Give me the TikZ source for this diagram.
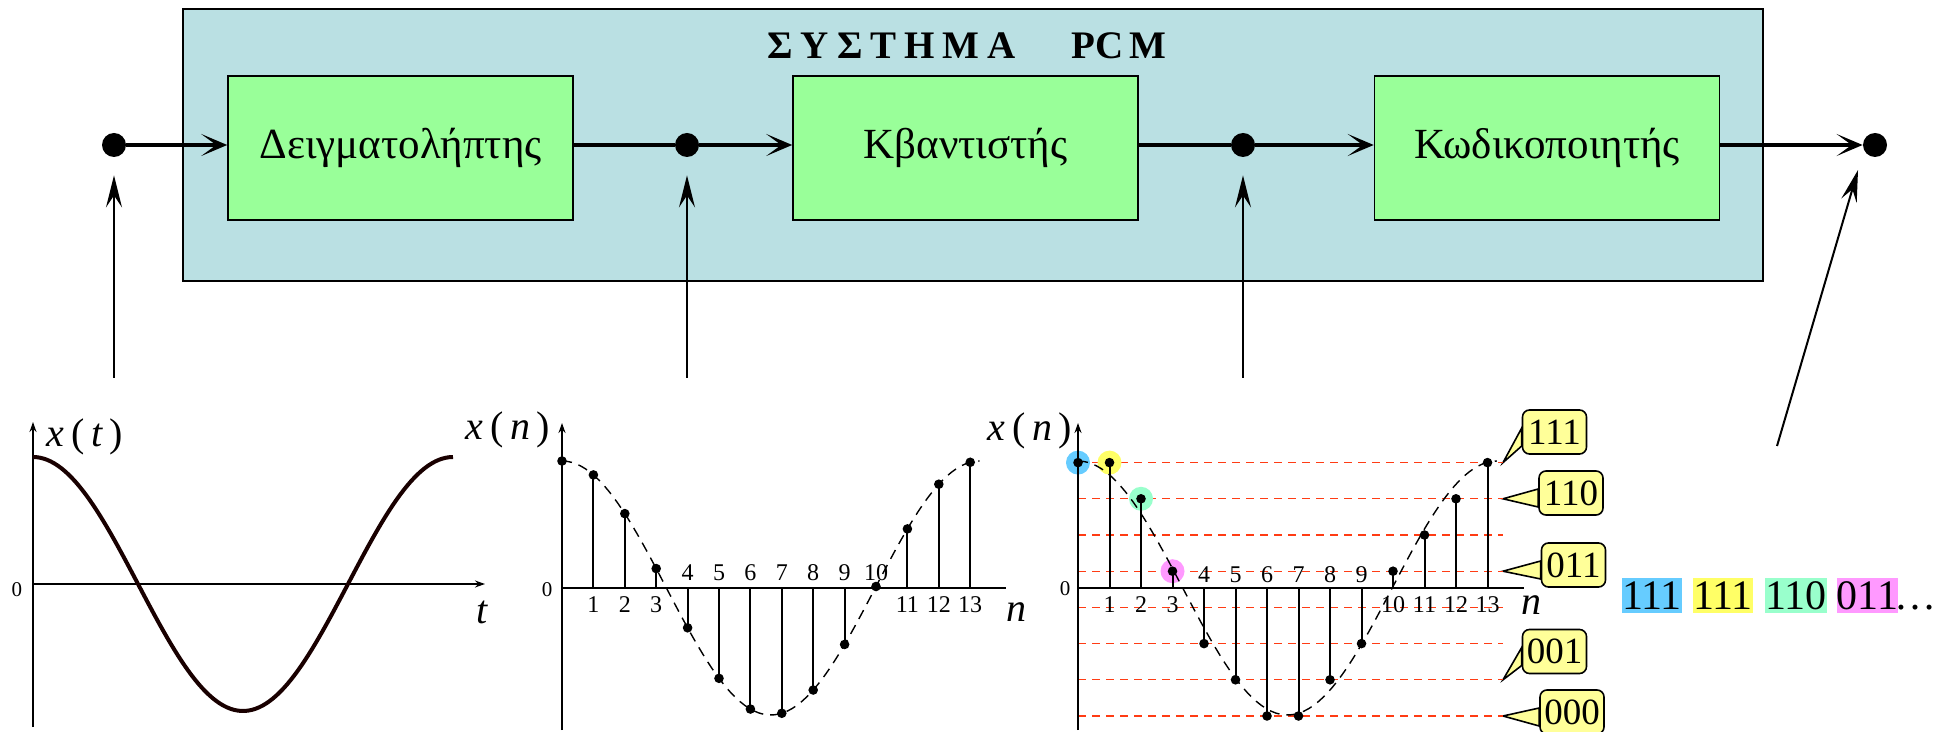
\documentclass[tikz,border=0pt]{standalone}
\usepackage{fontspec}
\setmainfont{Liberation Serif}
\usetikzlibrary{arrows.meta}
\usetikzlibrary{positioning,backgrounds}

\definecolor{sysblue}{RGB}{186,224,227}
\definecolor{blockgreen}{RGB}{153,255,153}
\definecolor{noteyellow}{RGB}{255,255,153}
\definecolor{levelred}{RGB}{255,60,20}
\definecolor{hlblue}{RGB}{102,204,255}
\definecolor{hlyellow}{RGB}{255,255,102}
\definecolor{hlgreen}{RGB}{153,255,204}
\definecolor{hlpink}{RGB}{255,153,255}

\tikzset{
  sysbox/.style={draw, line width=1.2pt, fill=sysblue, minimum width=790pt, minimum height=136pt},
  block/.style={draw, line width=0.8pt, fill=blockgreen, minimum width=172.5pt, minimum height=72pt,
    font=\fontsize{21.5}{25}\selectfont},
  dot/.style={circle, fill, inner sep=0pt, minimum size=12pt},
  flow/.style={line width=2pt, -{Stealth[length=13pt,width=11pt,inset=7.5pt]}},
  pointer/.style={line width=1pt, -{Stealth[length=16pt,width=8pt,inset=6pt]}},
  axis/.style={line width=1.2pt},
  axisarrow/.style={line width=1.2pt, -{Stealth[length=5pt,width=3.5pt]}},
  stem/.style={line width=1pt},
  trace/.style={line width=0.7pt, dash pattern=on 5pt off 3.5pt},
  level/.style={line width=0.6pt, levelred, dash pattern=on 4pt off 3pt},
  biglab/.style={font=\fontsize{20}{24}\selectfont},
  ticklab/.style={font=\fontsize{12}{14}\selectfont, inner sep=0pt},
  zerolab/.style={font=\fontsize{10.5}{12}\selectfont, inner sep=0pt},
  notebox/.style={draw, line width=0.8pt, fill=noteyellow, rounded corners=3.5pt,
    minimum width=32pt, minimum height=22pt, inner sep=2pt, font=\fontsize{18.5}{22}\selectfont},
  notewedge/.style={draw, line width=0.8pt, fill=noteyellow, line join=miter},
  codeword/.style={inner sep=0pt, minimum width=30pt, minimum height=17.5pt, font=\fontsize{21}{25}\selectfont}
}

\begin{document}
\begin{tikzpicture}[x=0.5pt,y=-0.5pt]
  \useasboundingbox (0,0) rectangle (1943,732);

  % system box
  \node[sysbox] (pcm) at (973,145) {};
  \node[font=\fontsize{19.5}{22}\selectfont\bfseries] (pcmtitle) at (967,46)
    {Σ\hspace{4pt}Υ\hspace{4pt}Σ\hspace{4pt}Τ\hspace{4pt}Η\hspace{4pt}Μ\hspace{4pt}Α\hspace{28pt}PC\hspace{3pt}M};

  % blocks
  \node[block] (sampler) at (400.5,148) {Δειγματολήπτης};
  \node[block] (quant) at (965.5,148) {Κβαντιστής};
  \node[block] (coder) at (1547,148) {Κωδικοποιητής};

  % terminals
  \node[dot] (in) at (114,145) {};
  \node[dot] (s1) at (687,145) {};
  \node[dot] (s2) at (1243,145) {};
  \node[dot] (out) at (1875,145) {};

  \draw[flow] (in) -- (in -| sampler.west);
  \draw[line width=2pt] (sampler.east |- s1) -- (s1);
  \draw[flow] (s1) -- (s1 -| quant.west);
  \draw[line width=2pt] (quant.east |- s2) -- (s2);
  \draw[flow] (s2) -- (s2 -| coder.west);
  \draw[flow] (coder.east |- out) -- (out);

  % pointers from the graphs
  \coordinate (pa) at (114,378);
  \coordinate (pb) at (687,378);
  \coordinate (pc) at (1243,378);
  \coordinate (pd) at (1777,446);
  \coordinate (pdtip) at (1858,170);
  \draw[pointer, shorten >=9pt] (pa) -- (in);
  \draw[pointer, shorten >=9pt] (pb) -- (s1);
  \draw[pointer, shorten >=9pt] (pc) -- (s2);
  \draw[pointer] (pd) -- (pdtip);

  % analog signal
  \draw[axisarrow] (33,727) -- (33,422);
  \draw[axisarrow] (33,584) -- (485,584);
  \draw[line width=2pt, black!90!red, domain=0:420, samples=120]
    plot ({33+\x},{584-127*cos(\x/420*360)});
  \node[zerolab] (z1) at (17,590) {0};
  \node[biglab] (xt) at (85,437) {\textit{x}\,(\,\textit{t}\,)};
  \node[biglab] (tlab) at (482,612) {\textit{t}};

  % sampled signal
  \draw[axisarrow] (562,730) -- (562,423);
  \draw[axis] (562,588) -- (1006,588);
  \draw[trace, domain=0:13.3, samples=90]
    plot ({562+31.4*\x},{588-127*cos(\x/13.3*360)});
  \foreach \n in {0,...,13} {
    \draw[stem] ({562+31.4*\n},588) -- ({562+31.4*\n},{588-127*cos(\n/13.3*360)});
    \fill ({562+31.4*\n},{588-127*cos(\n/13.3*360)}) circle (2.4pt);
  }
  \foreach \n in {1,2,3,11,12,13}
    \node[ticklab] at ({562+31.4*\n},605) {\n};
  \foreach \n in {4,...,10}
    \node[ticklab] at ({562+31.4*\n},573) {\n};
  \node[zerolab] (z2) at (547,590) {0};
  \node[biglab] (xn1) at (508,430) {\textit{x}\,(\,\textit{n}\,)};
  \node[biglab] (nlab1) at (1016,612) {\textit{n}};

  % quantized signal
  \foreach \k in {0,...,7}
    \draw[level] (1078,{716-36.2*\k}) -- (1503,{716-36.2*\k}) coordinate (lvl\k);
  \fill[hlblue] (1078,{716-36.2*7}) circle (6pt);
  \fill[hlyellow] (1109.5,{716-36.2*7}) circle (6pt);
  \fill[hlgreen] (1141,{716-36.2*6}) circle (6pt);
  \fill[hlpink] (1172.5,{716-36.2*4}) circle (6pt);
  \draw[axisarrow] (1078,730) -- (1078,423);
  \draw[axis] (1078,588) -- (1524,588);
  \draw[trace, domain=0:13.3, samples=90]
    plot ({1078+31.5*\x},{588-127*cos(\x/13.3*360)});
  \foreach \n/\q in {0/7,1/7,2/6,3/4,4/2,5/1,6/0,7/0,8/1,9/2,10/4,11/5,12/6,13/7} {
    \draw[stem] ({1078+31.5*\n},588) -- ({1078+31.5*\n},{716-36.2*\q});
    \fill ({1078+31.5*\n},{716-36.2*\q}) circle (2.4pt);
  }
  \foreach \n in {1,2,3,10,11,12,13}
    \node[ticklab] at ({1078+31.5*\n},605) {\n};
  \foreach \n in {4,...,9}
    \node[ticklab] at ({1078+31.5*\n},575) {\n};
  \node[zerolab] (z3) at (1065,589) {0};
  \node[biglab] (xn2) at (1030,431) {\textit{x}\,(\,\textit{n}\,)};
  \node[biglab] (nlab2) at (1531,605) {\textit{n}};

  % code labels
  \node[notebox] (c111) at (1554.5,432) {111};
  \node[notebox] (c110) at (1571,493) {110};
  \node[notebox] (c011) at (1573.5,565) {011};
  \node[notebox] (c001) at (1554.5,651.5) {001};
  \node[notebox] (c000) at (1572,712) {000};
  \begin{scope}[on background layer]
    \foreach \c/\k in {c111/7,c110/6,c011/4,c001/1,c000/0}
      \draw[notewedge] ([yshift=2pt]\c.west) -- (lvl\k) -- ([yshift=-7pt]\c.west) -- cycle;
  \end{scope}

  % output bits
  \node[codeword, fill=hlblue] (w0) at (1652,595.5) {111};
  \node[codeword, fill=hlyellow] (w1) at (1723,595.5) {111};
  \node[codeword, fill=hlgreen] (w2) at (1796,595.5) {110};
  \node[codeword, fill=hlpink] (w3) at (1867.5,595.5) {011};
  \node[font=\fontsize{21}{25}\selectfont, inner sep=0pt, anchor=base] (w4) at (1915,609) {\ldots};
\end{tikzpicture}
\end{document}
